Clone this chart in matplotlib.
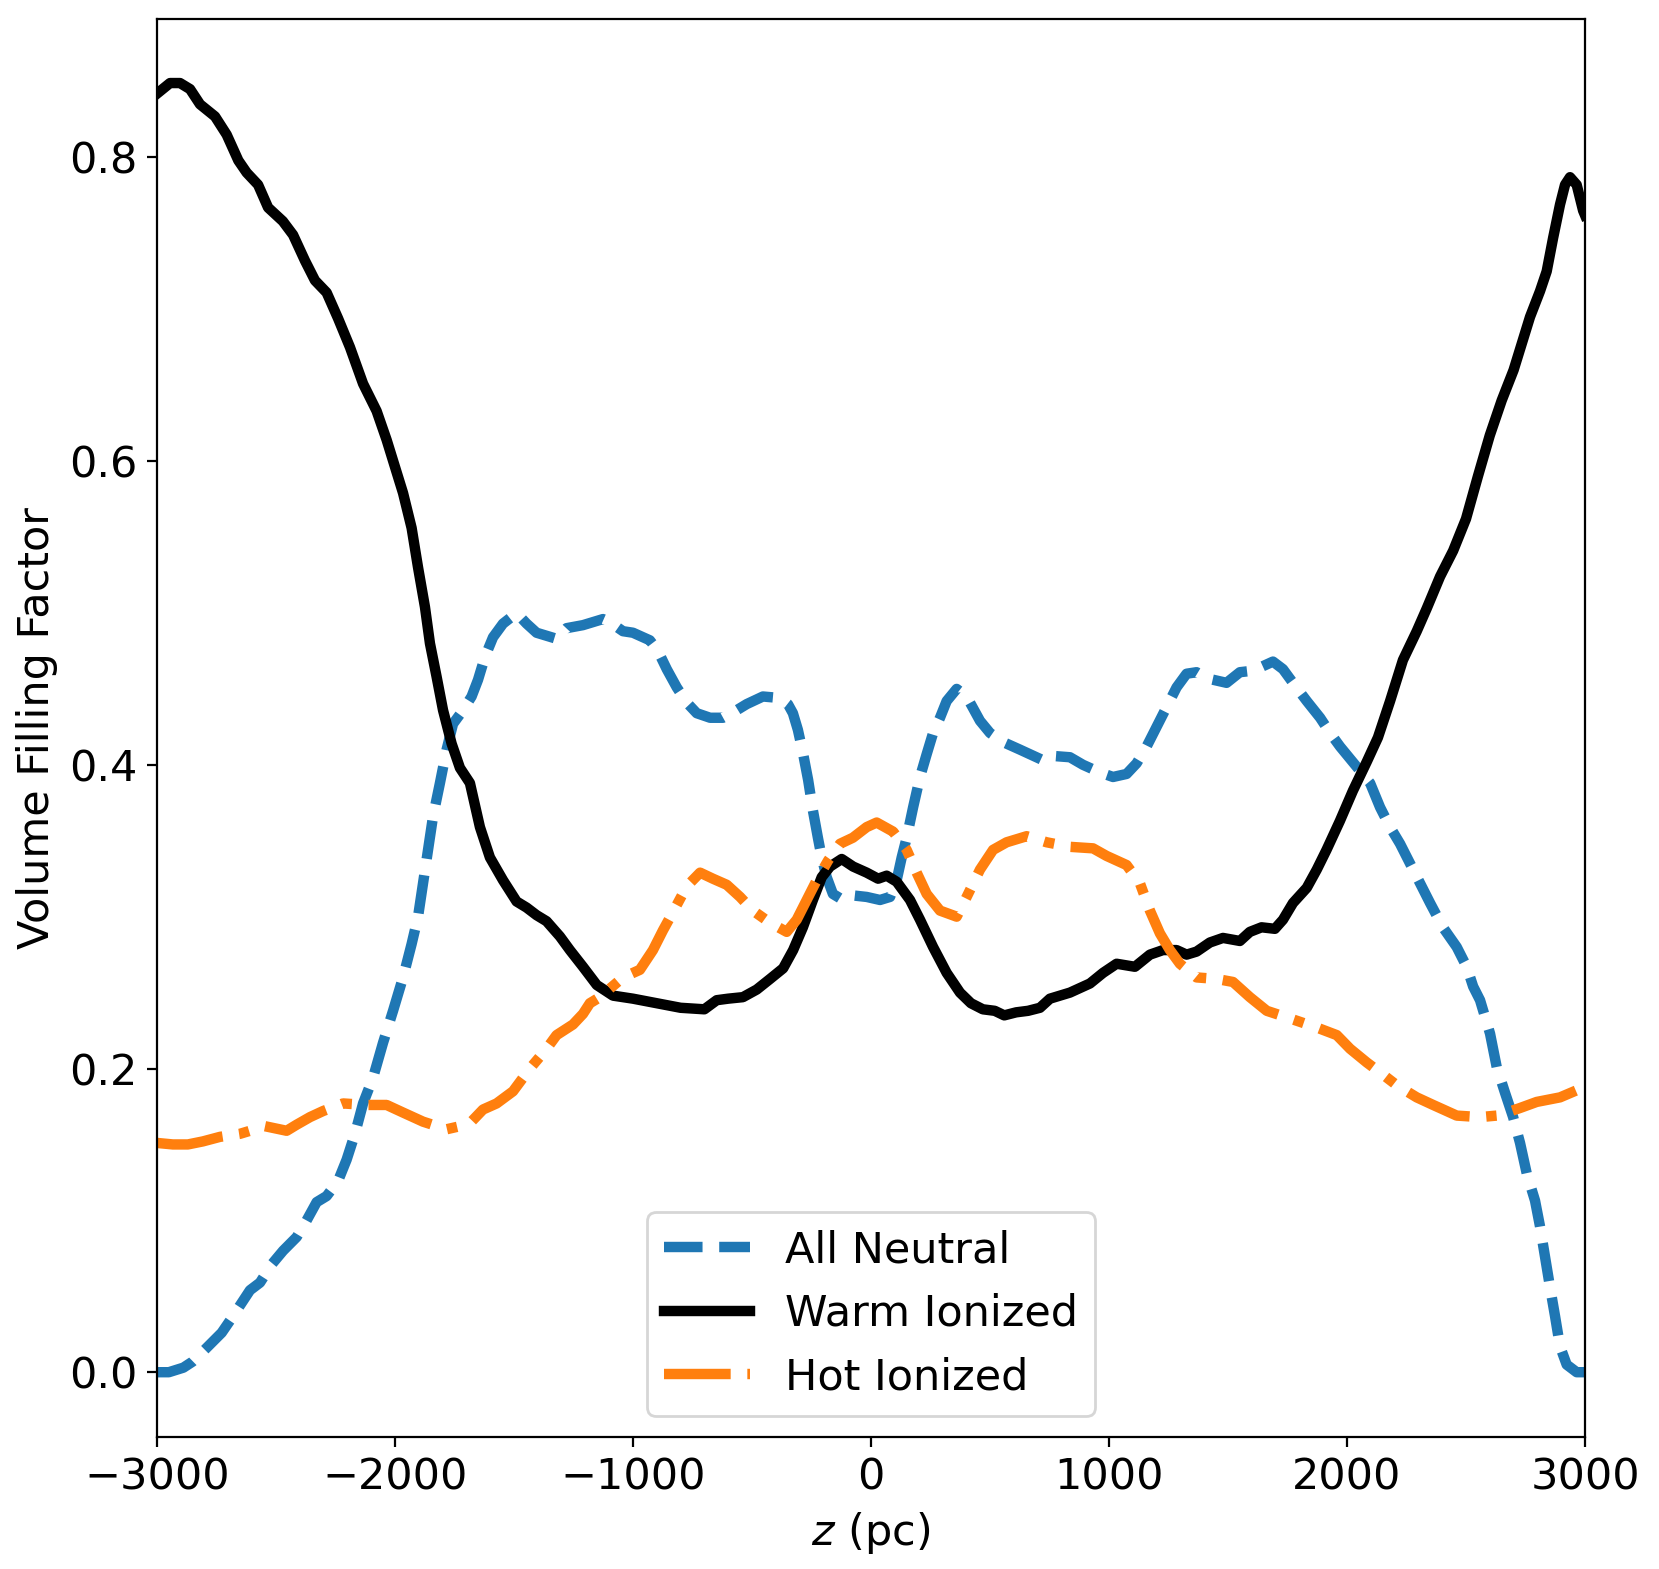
import numpy as np
import matplotlib
matplotlib.use("Agg")
import matplotlib.pyplot as plt

# z positions (pc) and volume filling factors
Z_WARM = [-3000, -2945, -2903, -2861, -2819, -2756, -2707, -2658, -2623, -2575, -2533, -2471,
          -2428, -2378, -2336, -2287, -2239, -2189, -2134, -2077, -2035, -1966, -1930, -1903,
          -1874, -1853, -1825, -1798, -1762, -1727, -1685, -1643, -1601, -1546, -1489, -1447,
          -1405, -1363, -1307, -1265, -1210, -1152, -1084, -1000, -900, -800, -700, -648, -600,
          -538, -480, -424, -369, -327, -286, -244, -207, -172, -123, -75, -18, 30, 66, 108,
          164, 206, 261, 318, 374, 420, 470, 520, 560, 610, 660, 710, 752, 836, 920, 975, 1032,
          1109, 1172, 1227, 1284, 1326, 1368, 1424, 1479, 1550, 1592, 1641, 1697, 1731, 1773,
          1831, 1873, 1914, 1970, 2025, 2083, 2130, 2181, 2235, 2293, 2335, 2391, 2446, 2500,
          2550, 2600, 2650, 2700, 2769, 2811, 2839, 2866, 2895, 2916, 2937, 2965, 2992, 3000]
F_WARM = [0.842, 0.849, 0.849, 0.845, 0.835, 0.827, 0.815, 0.798, 0.790, 0.782, 0.767, 0.758,
          0.749, 0.732, 0.719, 0.711, 0.694, 0.675, 0.651, 0.633, 0.614, 0.579, 0.556, 0.530,
          0.504, 0.480, 0.458, 0.436, 0.414, 0.398, 0.388, 0.359, 0.339, 0.324, 0.310, 0.306,
          0.301, 0.297, 0.287, 0.278, 0.267, 0.255, 0.248, 0.246, 0.243, 0.240, 0.239, 0.245,
          0.246, 0.247, 0.252, 0.259, 0.266, 0.278, 0.293, 0.311, 0.326, 0.333, 0.338, 0.333,
          0.329, 0.325, 0.327, 0.323, 0.311, 0.298, 0.280, 0.263, 0.250, 0.243, 0.239, 0.238,
          0.235, 0.237, 0.238, 0.240, 0.246, 0.250, 0.256, 0.263, 0.269, 0.267, 0.275, 0.278,
          0.278, 0.275, 0.277, 0.283, 0.286, 0.284, 0.290, 0.293, 0.292, 0.298, 0.309, 0.319,
          0.331, 0.344, 0.363, 0.383, 0.402, 0.418, 0.442, 0.469, 0.488, 0.503, 0.524, 0.541,
          0.562, 0.590, 0.617, 0.640, 0.660, 0.695, 0.712, 0.725, 0.747, 0.769, 0.782, 0.787,
          0.782, 0.765, 0.762]

Z_NEUTRAL = [-3000, -2950, -2889, -2850, -2798, -2728, -2693, -2651, -2609, -2567, -2518, -2470,
             -2413, -2378, -2329, -2287, -2239, -2203, -2168, -2134, -2092, -2050, -2008, -1966,
             -1930, -1903, -1882, -1861, -1840, -1811, -1783, -1756, -1714, -1678, -1651, -1622,
             -1588, -1546, -1489, -1447, -1405, -1321, -1279, -1210, -1126, -1097, -1042, -1000,
             -929, -895, -858, -816, -774, -732, -676, -622, -564, -522, -454, -382, -349, -328,
             -307, -286, -264, -244, -223, -207, -186, -160, -118, -76, -18, 38, 80, 108, 129,
             150, 177, 206, 234, 261, 290, 318, 360, 402, 458, 500, 555, 626, 681, 723, 752, 836,
             891, 962, 1017, 1074, 1116, 1158, 1200, 1242, 1284, 1326, 1368, 1410, 1494, 1550,
             1605, 1689, 1731, 1773, 1831, 1887, 1929, 1971, 2013, 2055, 2097, 2139, 2181, 2223,
             2265, 2307, 2349, 2403, 2461, 2503, 2530, 2559, 2601, 2629, 2664, 2698, 2727, 2755,
             2790, 2811, 2832, 2853, 2874, 2895, 2923, 2965, 3000]
F_NEUTRAL = [0.000, 0.000, 0.003, 0.007, 0.015, 0.026, 0.034, 0.044, 0.054, 0.059, 0.071, 0.080,
             0.089, 0.098, 0.112, 0.116, 0.126, 0.140, 0.157, 0.177, 0.194, 0.217, 0.238, 0.260,
             0.282, 0.300, 0.322, 0.344, 0.366, 0.388, 0.410, 0.427, 0.436, 0.445, 0.456, 0.471,
             0.484, 0.493, 0.500, 0.493, 0.487, 0.483, 0.490, 0.492, 0.496, 0.494, 0.488, 0.487,
             0.482, 0.475, 0.463, 0.451, 0.441, 0.434, 0.431, 0.431, 0.436, 0.440, 0.445, 0.444,
             0.440, 0.434, 0.423, 0.408, 0.390, 0.370, 0.352, 0.339, 0.326, 0.315, 0.311, 0.314,
             0.313, 0.311, 0.313, 0.324, 0.339, 0.352, 0.372, 0.392, 0.407, 0.421, 0.431, 0.442,
             0.450, 0.445, 0.429, 0.421, 0.415, 0.410, 0.406, 0.403, 0.406, 0.405, 0.400, 0.395,
             0.392, 0.394, 0.401, 0.412, 0.425, 0.438, 0.451, 0.460, 0.461, 0.457, 0.454, 0.461,
             0.462, 0.468, 0.463, 0.454, 0.442, 0.431, 0.421, 0.412, 0.404, 0.396, 0.388, 0.372,
             0.359, 0.348, 0.335, 0.322, 0.309, 0.293, 0.280, 0.267, 0.254, 0.245, 0.223, 0.201,
             0.184, 0.168, 0.151, 0.131, 0.113, 0.096, 0.076, 0.056, 0.037, 0.017, 0.005, 0.000,
             0.000]

Z_HOT = [-3000, -2933, -2870, -2807, -2735, -2651, -2546, -2455, -2413, -2357, -2302, -2218,
         -2119, -2035, -1966, -1882, -1783, -1727, -1685, -1630, -1573, -1504, -1433, -1363,
         -1321, -1252, -1210, -1181, -1139, -1042, -971, -916, -874, -832, -774, -718, -664,
         -606, -550, -496, -424, -354, -312, -270, -228, -180, -130, -76, -18, 24, 93, 150, 192,
         234, 290, 360, 402, 458, 513, 570, 654, 738, 836, 933, 990, 1074, 1130, 1172, 1214,
         1256, 1298, 1368, 1452, 1521, 1592, 1663, 1760, 1873, 1957, 2013, 2083, 2151, 2209,
         2293, 2362, 2461, 2559, 2629, 2671, 2727, 2797, 2895, 3000]
F_HOT = [0.151, 0.150, 0.150, 0.152, 0.155, 0.157, 0.162, 0.159, 0.163, 0.168, 0.172, 0.177,
         0.176, 0.176, 0.171, 0.165, 0.160, 0.162, 0.164, 0.173, 0.177, 0.185, 0.200, 0.213,
         0.222, 0.229, 0.236, 0.243, 0.247, 0.260, 0.265, 0.278, 0.291, 0.303, 0.320, 0.329,
         0.325, 0.321, 0.313, 0.304, 0.296, 0.290, 0.298, 0.311, 0.324, 0.337, 0.348, 0.352,
         0.359, 0.362, 0.356, 0.344, 0.329, 0.315, 0.304, 0.300, 0.313, 0.331, 0.344, 0.349,
         0.353, 0.349, 0.346, 0.345, 0.340, 0.334, 0.322, 0.304, 0.289, 0.278, 0.269, 0.260,
         0.259, 0.257, 0.247, 0.238, 0.233, 0.227, 0.222, 0.213, 0.204, 0.196, 0.189, 0.181,
         0.176, 0.169, 0.168, 0.169, 0.171, 0.174, 0.178, 0.181, 0.188]

LW = 3.75

plt.rcParams["font.size"] = 15.5

fig = plt.figure(figsize=(8.295, 7.845), dpi=200)
ax = fig.add_axes([0.0946, 0.0841, 0.8608, 0.9041])

ax.plot(Z_NEUTRAL, F_NEUTRAL, ls="--", color="#1f77b4", lw=LW, label="All Neutral")
ax.plot(Z_WARM, F_WARM, ls="-", color="black", lw=LW, label="Warm Ionized")
ax.plot(Z_HOT, F_HOT, ls="-.", color="#ff7f0e", lw=LW, label="Hot Ionized")

ax.set_xlim(-3000, 3000)
ax.set_ylim(-0.0427, 0.8915)
ax.set_xticks([-3000, -2000, -1000, 0, 1000, 2000, 3000])
ax.set_yticks([0.0, 0.2, 0.4, 0.6, 0.8])
ax.set_xlabel("$z$ (pc)")
ax.set_ylabel("Volume Filling Factor")
ax.legend(loc="lower center")

fig.savefig("out.png", dpi=200)
